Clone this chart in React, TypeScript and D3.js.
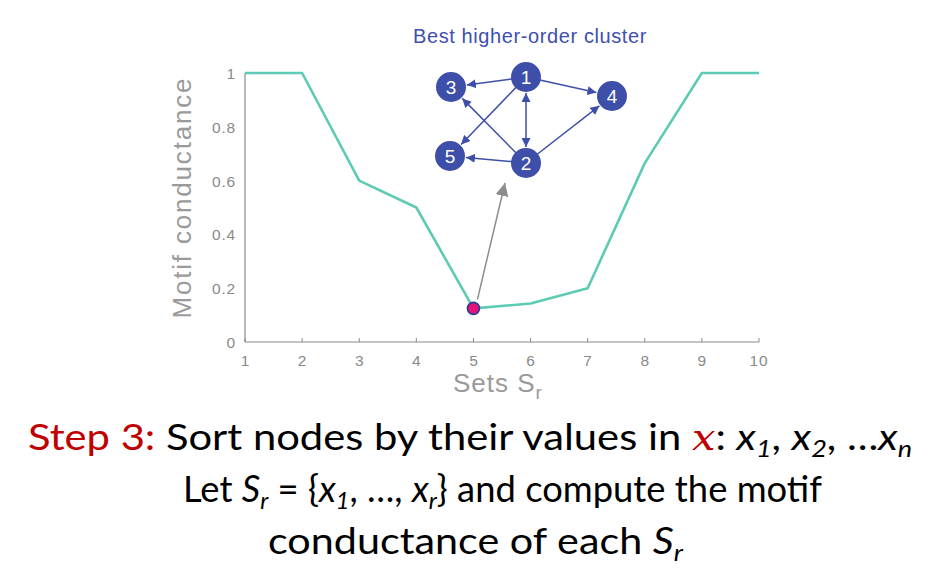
import React from "react";
import * as d3 from "d3";

const setSizes = [1, 2, 3, 4, 5, 6, 7, 8, 9, 10];
const conductance = [1, 1, 0.6, 0.5, 0.125, 0.143, 0.2, 0.665, 1, 1];
const yTicks = [0, 0.2, 0.4, 0.6, 0.8, 1];
const bestIndex = 4;

const nodeIds = ["1", "2", "3", "4", "5"];
const edges: [string, string, boolean][] = [
  ["1", "3", false],
  ["1", "4", false],
  ["1", "2", true],
  ["1", "5", false],
  ["2", "3", false],
  ["2", "5", false],
  ["2", "4", false],
];
const nodeLayout: Record<string, [number, number]> = {
  "1": [526, 77],
  "2": [526, 163],
  "3": [451, 87],
  "4": [612, 96],
  "5": [450, 156],
};

const W = 942, H = 571;
const M = { left: 245, right: 759, top: 73, bottom: 342 };
const teal = "#5dcbb4";
const axisGray = "#8a8a8a";
const labelGray = "#9a9a9a";
const blue = "#3d4fa9";
const red = "#c00000";

export default function App() {
  const x = d3.scaleLinear().domain([1, 10]).range([M.left, M.right]);
  const y = d3.scaleLinear().domain([0, 1]).range([M.bottom, M.top]);
  const line = d3
    .line<number>()
    .x((_, i) => x(setSizes[i]))
    .y((d) => y(d));
  const bx = x(setSizes[bestIndex]);
  const by = y(conductance[bestIndex]);
  const R = 15;
  const bodyFont = "Lato, 'Open Sans', sans-serif";
  const chartFont = "'Liberation Sans', Arial, sans-serif";

  return (
    <svg width={W} height={H} style={{ position: "absolute", left: 0, top: 0, background: "#fff" }}>
      <defs>
        <marker id="bh" viewBox="0 0 10 10" refX="10" refY="5" markerWidth="9" markerHeight="9" markerUnits="userSpaceOnUse" orient="auto-start-reverse">
          <path d="M0,0 L10,5 L0,10 z" fill={blue} />
        </marker>
        <marker id="gh" viewBox="0 0 10 10" refX="10" refY="5" markerWidth="13" markerHeight="13" markerUnits="userSpaceOnUse" orient="auto">
          <path d="M0,0 L10,5 L0,10 z" fill="#8c8c8c" />
        </marker>
      </defs>

      {/* axes */}
      <line x1={M.left} x2={M.left} y1={M.top} y2={M.bottom} stroke={axisGray} strokeWidth={1.2} />
      <line x1={M.left} x2={M.right} y1={M.bottom} y2={M.bottom} stroke={axisGray} strokeWidth={1.2} />
      {setSizes.map((s) => (
        <g key={s}>
          <line x1={x(s)} x2={x(s)} y1={M.bottom} y2={M.bottom - 4} stroke={axisGray} strokeWidth={1} />
          <text x={x(s)} y={M.bottom + 24} textAnchor="middle" fontSize={15.5} letterSpacing={s === 10 ? 1 : 0} fill={axisGray} fontFamily={chartFont}>
            {s}
          </text>
        </g>
      ))}
      {yTicks.map((t) => (
        <text key={t} x={M.left - 9} y={y(t) + 6} textAnchor="end" fontSize={15.5} letterSpacing={0.8} fill={axisGray} fontFamily={chartFont}>
          {t}
        </text>
      ))}
      <text
        transform={`translate(191,${(M.top + M.bottom) / 2 - 9}) rotate(-90)`}
        textAnchor="middle"
        fontSize={26}
        textLength={240}
        lengthAdjust="spacing"
        fill={labelGray}
        fontFamily={chartFont}
      >
        Motif conductance
      </text>
      <text x={453} y={392} fontSize={26} letterSpacing={1} fill={labelGray} fontFamily={chartFont}>
        Sets S
        <tspan fontSize={19} dy={7}>r</tspan>
      </text>

      {/* curve */}
      <path d={line(conductance) || ""} fill="none" stroke={teal} strokeWidth={2.6} strokeLinejoin="round" />

      {/* gray pointer arrow */}
      <line x1={bx + 4} y1={by - 9} x2={505} y2={183} stroke="#8c8c8c" strokeWidth={1.5} markerEnd="url(#gh)" />
      <circle cx={bx} cy={by} r={6} fill="#e5127c" stroke="#2f3b8f" strokeWidth={1.6} />

      {/* cluster */}
      <text x={413} y={43} fontSize={20} letterSpacing={0.6} fill="#3f4fb0" fontFamily={chartFont}>
        Best higher-order cluster
      </text>
      {edges.map(([a, b, both], i) => {
        const [x1, y1] = nodeLayout[a];
        const [x2, y2] = nodeLayout[b];
        const dx = x2 - x1, dy = y2 - y1;
        const L = Math.hypot(dx, dy);
        const ux = dx / L, uy = dy / L;
        const s0 = both ? R + 1 : R - 2;
        const s1 = R + 1;
        return (
          <line
            key={i}
            x1={x1 + ux * s0}
            y1={y1 + uy * s0}
            x2={x2 - ux * s1}
            y2={y2 - uy * s1}
            stroke={blue}
            strokeWidth={1.5}
            markerEnd="url(#bh)"
            markerStart={both ? "url(#bh)" : undefined}
          />
        );
      })}
      {nodeIds.map((id) => (
        <g key={id}>
          <circle cx={nodeLayout[id][0]} cy={nodeLayout[id][1]} r={R} fill={blue} />
          <text x={nodeLayout[id][0]} y={nodeLayout[id][1] + 7} textAnchor="middle" fontSize={19} fill="#fff" fontFamily={chartFont}>
            {id}
          </text>
        </g>
      ))}

      {/* caption */}
      <text x={28} y={450} fontSize={37} fontFamily={bodyFont} fill="#000" textLength={884} lengthAdjust="spacingAndGlyphs">
        <tspan fill={red}>Step 3:</tspan> Sort nodes by their values in{" "}
        <tspan fill={red} fontStyle="italic" fontFamily="'DejaVu Serif', serif">x</tspan>:{" "}
        <tspan fontStyle="italic">x</tspan><tspan fontStyle="italic" fontSize={24} dy={7}>1</tspan>
        <tspan dy={-7}>, </tspan>
        <tspan fontStyle="italic">x</tspan><tspan fontStyle="italic" fontSize={24} dy={7}>2</tspan>
        <tspan dy={-7}>, …</tspan>
        <tspan fontStyle="italic">x</tspan><tspan fontStyle="italic" fontSize={24} dy={7}>n</tspan>
      </text>
      <text x={183} y={502} fontSize={37} fontFamily={bodyFont} fill="#000" textLength={639} lengthAdjust="spacingAndGlyphs">
        Let <tspan fontStyle="italic">S</tspan><tspan fontStyle="italic" fontSize={24} dy={7}>r</tspan>
        <tspan dy={-7}> = {"{"}</tspan>
        <tspan fontStyle="italic">x</tspan><tspan fontStyle="italic" fontSize={24} dy={7}>1</tspan>
        <tspan dy={-7}>, …, </tspan>
        <tspan fontStyle="italic">x</tspan><tspan fontStyle="italic" fontSize={24} dy={7}>r</tspan>
        <tspan dy={-7}>{"}"} and compute the motif</tspan>
      </text>
      <text x={268} y={554} fontSize={37} fontFamily={bodyFont} fill="#000" textLength={415} lengthAdjust="spacingAndGlyphs">
        conductance of each <tspan fontStyle="italic">S</tspan><tspan fontStyle="italic" fontSize={24} dy={7}>r</tspan>
      </text>
    </svg>
  );
}
